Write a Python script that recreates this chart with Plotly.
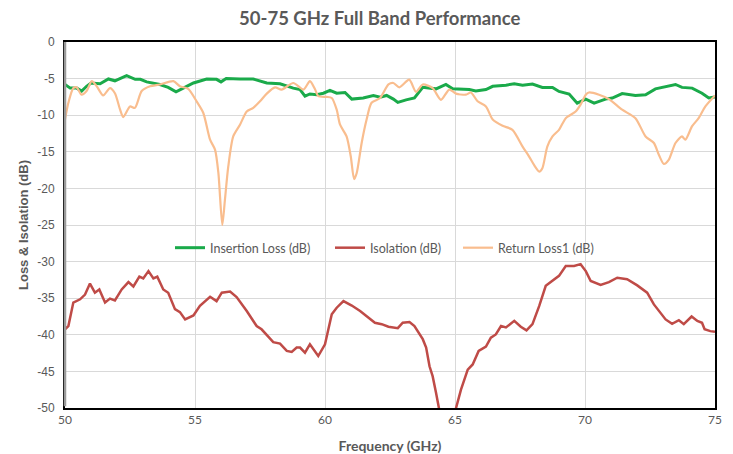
import plotly.graph_objects as go

# Insertion Loss (dB)
il_freq = [50.0, 50.2, 50.45, 50.64, 50.83, 51.0, 51.35, 51.67, 51.92, 52.37, 52.7, 52.9, 53.14,
           53.65, 53.97, 54.27, 54.55, 54.94, 55.45, 55.83, 56.0, 56.2, 56.73, 57.24, 57.76, 58.27,
           58.78, 59.04, 59.23, 59.42, 59.68, 59.94, 60.19, 60.45, 60.77, 61.03, 61.47, 61.86,
           62.12, 62.37, 62.63, 62.8, 63.12, 63.44, 63.76, 64.27, 64.65, 64.91, 65.55, 65.8,
           66.19, 66.45, 66.96, 67.28, 67.6, 67.98, 68.36, 68.75, 69.0, 69.39, 69.7, 70.03,
           70.35, 70.79, 71.05, 71.43, 71.94, 72.33, 72.71, 73.1, 73.48, 73.73, 74.12, 74.5,
           74.76, 75.0]
il_db = [-5.8, -6.3, -6.3, -6.7, -6.05, -5.6, -5.7, -5.05, -5.3, -4.6, -5.1, -5.1, -5.45,
         -5.8, -6.2, -6.8, -6.3, -5.6, -5.05, -5.1, -5.45, -5.0, -5.05, -5.05, -5.6, -5.7,
         -6.3, -6.5, -7.4, -7.1, -7.2, -7.0, -6.6, -7.0, -6.9, -7.8, -7.65, -7.3,
         -7.55, -7.3, -7.8, -8.25, -7.9, -7.65, -6.2, -6.4, -5.8, -6.4, -6.5, -6.7,
         -6.5, -6.05, -5.9, -5.7, -5.9, -5.75, -6.2, -6.2, -6.75, -7.1, -8.35, -7.8,
         -8.35, -7.8, -7.65, -7.05, -7.3, -7.2, -6.4, -6.05, -5.8, -6.2, -6.3, -7.0,
         -7.65, -7.5]

# Isolation (dB)
iso_freq = [50.0, 50.13, 50.32, 50.58, 50.77, 50.96, 51.15, 51.32, 51.54, 51.73, 51.92, 52.18,
            52.44, 52.63, 52.86, 53.01, 53.21, 53.4, 53.55, 53.78, 53.97, 54.23, 54.42, 54.62,
            54.94, 55.19, 55.58, 55.83, 56.03, 56.35, 56.6, 56.99, 57.37, 57.56, 58.01, 58.27,
            58.53, 58.72, 58.91, 59.04, 59.23, 59.42, 59.74, 60.0, 60.26, 60.45, 60.71, 61.03,
            61.35, 61.6, 61.92, 62.18, 62.44, 62.8, 62.99, 63.25, 63.44, 63.76, 63.89, 64.02,
            64.14, 64.27, 64.37, 64.5, 64.7, 64.9, 65.04, 65.23, 65.49, 65.68, 65.91, 66.19,
            66.38, 66.57, 66.77, 66.96, 67.28, 67.53, 67.75, 67.98, 68.24, 68.49, 68.75, 69.0,
            69.26, 69.58, 69.83, 70.03, 70.22, 70.6, 70.92, 71.24, 71.62, 72.01, 72.39, 72.65,
            73.1, 73.35, 73.61, 73.8, 74.1, 74.32, 74.5, 74.6, 74.82, 75.0]
iso_db = [-39.25, -38.8, -35.6, -35.15, -34.5, -33.0, -34.25, -33.8, -35.6, -35.05, -35.3, -33.8,
          -32.8, -33.4, -32.05, -32.3, -31.3, -32.3, -32.05, -33.8, -34.25, -36.5, -36.9, -37.9,
          -37.35, -36.05, -34.8, -35.4, -34.25, -34.1, -34.85, -36.75, -38.8, -39.25, -41.0, -41.2,
          -42.2, -42.35, -41.75, -41.75, -42.45, -41.3, -42.9, -41.3, -37.2, -36.3, -35.4, -36.0,
          -36.75, -37.5, -38.35, -38.55, -38.9, -39.1, -38.35, -38.25, -38.8, -40.6, -41.75, -44.3,
          -45.65, -47.9, -50.0, -53.0, -56.0, -53.0, -50.0, -47.5, -44.75, -44.05, -42.2, -41.6,
          -40.4, -39.95, -38.8, -39.0, -38.1, -38.9, -39.4, -38.55, -36.05, -33.3, -32.55, -31.95,
          -30.6, -30.6, -30.35, -31.3, -32.65, -33.2, -32.8, -32.2, -32.4, -33.25, -34.25, -35.85,
          -37.9, -38.5, -38.0, -38.55, -37.5, -38.1, -38.35, -39.25, -39.5, -39.6]

# Return Loss1 (dB)
rl_freq = [50.0, 50.13, 50.32, 50.45, 50.64, 50.83, 51.03, 51.22, 51.47, 51.73, 51.92, 52.12,
           52.24, 52.5, 52.69, 52.95, 53.27, 53.65, 54.17, 54.42, 54.74, 55.06, 55.32, 55.58,
           55.77, 55.9, 56.05, 56.15, 56.28, 56.47, 56.73, 56.99, 57.24, 57.5, 57.76, 58.08,
           58.33, 58.78, 59.17, 59.42, 59.62, 59.74, 60.06, 60.26, 60.45, 60.58, 60.83, 60.99,
           61.12, 61.22, 61.41, 61.6, 61.79, 62.12, 62.44, 62.63, 62.86, 63.24, 63.5, 63.76,
           64.14, 64.46, 64.78, 65.04, 65.42, 65.61, 65.87, 66.19, 66.45, 66.83, 67.21, 67.6,
           67.85, 68.04, 68.24, 68.36, 68.55, 68.75, 69.0, 69.26, 69.64, 69.83, 70.03, 70.15,
           70.54, 70.92, 71.43, 71.94, 72.33, 72.65, 72.84, 73.03, 73.22, 73.48, 73.73, 73.86,
           74.12, 74.37, 74.63, 75.0]
rl_db = [-10.6, -8.3, -6.3, -6.2, -7.2, -6.7, -5.35, -6.05, -7.3, -6.3, -7.0, -9.25,
         -10.25, -8.8, -9.0, -6.7, -6.05, -5.8, -5.35, -6.05, -6.4, -8.1, -9.7, -13.35,
         -14.7, -17.9, -25.0, -21.6, -17.0, -12.9, -11.3, -9.5, -9.0, -8.1, -7.05, -6.2,
         -6.5, -5.6, -6.5, -5.35, -6.5, -7.4, -7.5, -7.65, -9.25, -11.3, -12.9, -15.6,
         -18.75, -17.9, -13.8, -10.6, -8.3, -7.65, -5.8, -5.6, -6.2, -5.15, -6.8, -5.8,
         -6.3, -7.9, -6.5, -7.05, -7.2, -6.9, -8.1, -8.8, -10.6, -11.45, -12.0, -14.3,
         -15.65, -16.8, -17.7, -17.25, -14.3, -12.9, -12.0, -10.4, -9.5, -8.55, -7.2, -6.9,
         -7.2, -7.8, -9.25, -10.4, -12.9, -13.8, -15.4, -16.65, -16.1, -13.8, -12.9, -13.35,
         -11.5, -10.4, -8.8, -7.3]

x_ticks = [50, 55, 60, 65, 70, 75]
y_ticks = [0, -5, -10, -15, -20, -25, -30, -35, -40, -45, -50]

grey = "#595959"
leg_font = dict(family="Lato", size=12.5, color=grey)

fig = go.Figure()
fig.add_trace(go.Scatter(x=il_freq, y=il_db, mode="lines", name="Insertion Loss (dB)",
                         line=dict(color="#1aaa4a", width=3), legend="legend"))
fig.add_trace(go.Scatter(x=iso_freq, y=iso_db, mode="lines", name="Isolation (dB)",
                         line=dict(color="#bf4b47", width=2.5), legend="legend2"))
fig.add_trace(go.Scatter(x=rl_freq, y=rl_db, mode="lines", name="Return Loss1 (dB)",
                         line=dict(color="#f9bd8e", width=2.2, shape="spline", smoothing=0.7),
                         legend="legend3"))

def leg(xp):
    return dict(x=xp, xanchor="left", y=0.437, yanchor="middle", orientation="h",
                bgcolor="rgba(0,0,0,0)", font=leg_font, itemwidth=30, visible=True)

fig.update_layout(
    width=733, height=454,
    showlegend=True,
    margin=dict(l=65, r=18, t=42, b=46),
    paper_bgcolor="white", plot_bgcolor="white",
    title=dict(text="<b>50-75 GHz Full Band Performance</b>", x=0.518, xanchor="center",
               y=0.96, yanchor="middle", font=dict(family="Lato", size=18.5, color=grey)),
    legend=leg((170 - 65) / 650),
    legend2=leg((330 - 65) / 650),
    legend3=leg((458 - 65) / 650),
    xaxis=dict(range=[50, 75], tickvals=x_ticks, ticktext=[str(v) for v in x_ticks],
               showgrid=True, gridcolor="#d9d9d9", gridwidth=1, zeroline=False,
               showline=True, linecolor="black", linewidth=2, mirror=True, automargin=False,
               ticks="", tickfont=dict(family="Lato", size=12, color=grey),
               title=dict(text="<b>Frequency (GHz)</b>", standoff=15,
                          font=dict(family="Lato", size=14, color=grey))),
    yaxis=dict(range=[-50, 0], tickvals=y_ticks, ticktext=[str(v) for v in y_ticks],
               showgrid=True, gridcolor="#d9d9d9", gridwidth=1, zeroline=False,
               showline=True, linecolor="black", linewidth=2, mirror=True, automargin=False,
               ticks="", ticklabelstandoff=6,
               tickfont=dict(family="Liberation Sans", size=12, color=grey),
               title=dict(text="<b>Loss & Isolation (dB)</b>", standoff=6,
                          font=dict(family="Liberation Sans", size=13, color=grey))),
    shapes=[dict(type="line", xref="paper", yref="paper", x0=0, x1=0, y0=0.005, y1=1,
                 line=dict(color="#9a9a9a", width=2.5))],
)

fig.write_html("out.html", config={"displayModeBar": False},
               post_script="document.body.style.margin='0';document.body.style.overflow='hidden';")
